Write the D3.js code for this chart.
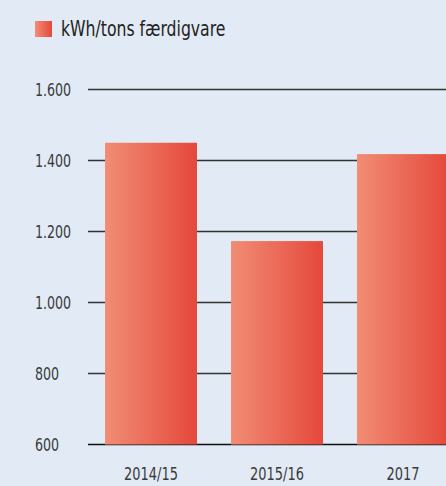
<!DOCTYPE html>
<html>
<head>
<meta charset="utf-8">
<script src="https://cdn.jsdelivr.net/npm/d3@7"></script>
<style>
  html, body { margin: 0; padding: 0; background: #e2eaf5; overflow: hidden; }
  svg { display: block; font-family: "Liberation Sans Narrow", "DejaVu Sans Condensed", sans-serif; }
</style>
</head>
<body>
<svg></svg>
<script>
var categories = ['2014/15', '2015/16', '2017'];
var values = [1450, 1173, 1418];
var yTicks = [600, 800, 1000, 1200, 1400, 1600];
var seriesName = 'kWh/tons færdigvare';

var width = 446, height = 486;

var svg = d3.select('svg').attr('width', width).attr('height', height);

var defs = svg.append('defs');
var grad = defs.append('linearGradient')
  .attr('id', 'barGrad')
  .attr('x1', '0%').attr('x2', '100%').attr('y1', '0%').attr('y2', '0%');
grad.append('stop').attr('offset', '0%').attr('stop-color', '#f18d75');
grad.append('stop').attr('offset', '100%').attr('stop-color', '#e5483b');

var x = d3.scaleBand()
  .domain(categories)
  .range([88, 466])
  .paddingInner(0.27)
  .paddingOuter(0.135);

var y = d3.scaleLinear()
  .domain([600, 1600])
  .range([444.5, 89.5]);

// the original face is condensed, so squeeze the text a little
function place(px, py, sx) {
  return 'translate(' + px + ',' + py + ') scale(' + sx + ',1)';
}

// gridlines
svg.append('g')
  .selectAll('line.grid')
  .data(yTicks)
  .enter()
  .append('line')
    .attr('class', 'grid')
    .attr('x1', 88)
    .attr('x2', width)
    .attr('y1', function(d) { return y(d); })
    .attr('y2', function(d) { return y(d); })
    .attr('stroke', function(d) { return d === 600 ? '#111' : '#333'; })
    .attr('stroke-width', 1.4);

// y labels (left aligned)
svg.append('g')
  .selectAll('text.ytick')
  .data(yTicks)
  .enter()
  .append('text')
    .attr('class', 'ytick')
    .attr('transform', function(d) { return place(35, y(d), 0.78); })
    .attr('dy', '0.36em')
    .attr('font-size', 18)
    .attr('fill', '#3a3a3a')
    .text(function(d) { return d3.format(',')(d).replace(/,/g, '.'); });

// bars
svg.append('g')
  .selectAll('rect.bar')
  .data(values)
  .enter()
  .append('rect')
    .attr('class', 'bar')
    .attr('x', function(d, i) { return x(categories[i]); })
    .attr('width', x.bandwidth())
    .attr('y', function(d) { return y(d); })
    .attr('height', function(d) { return y(600) - y(d); })
    .attr('fill', 'url(#barGrad)');

// x labels
svg.append('g')
  .selectAll('text.xtick')
  .data(categories)
  .enter()
  .append('text')
    .attr('class', 'xtick')
    .attr('transform', function(d) { return place(x(d) + x.bandwidth() / 2, 480, 0.8); })
    .attr('text-anchor', 'middle')
    .attr('font-size', 18)
    .attr('fill', '#3a3a3a')
    .text(function(d) { return d; });

// legend
var legend = svg.append('g');
legend.append('rect')
  .attr('x', 35).attr('y', 21)
  .attr('width', 17).attr('height', 16)
  .attr('fill', 'url(#barGrad)');
legend.append('text')
  .attr('transform', place(61, 36, 0.83))
  .attr('font-size', 21)
  .attr('fill', '#222')
  .text(seriesName);
</script>
</body>
</html>
